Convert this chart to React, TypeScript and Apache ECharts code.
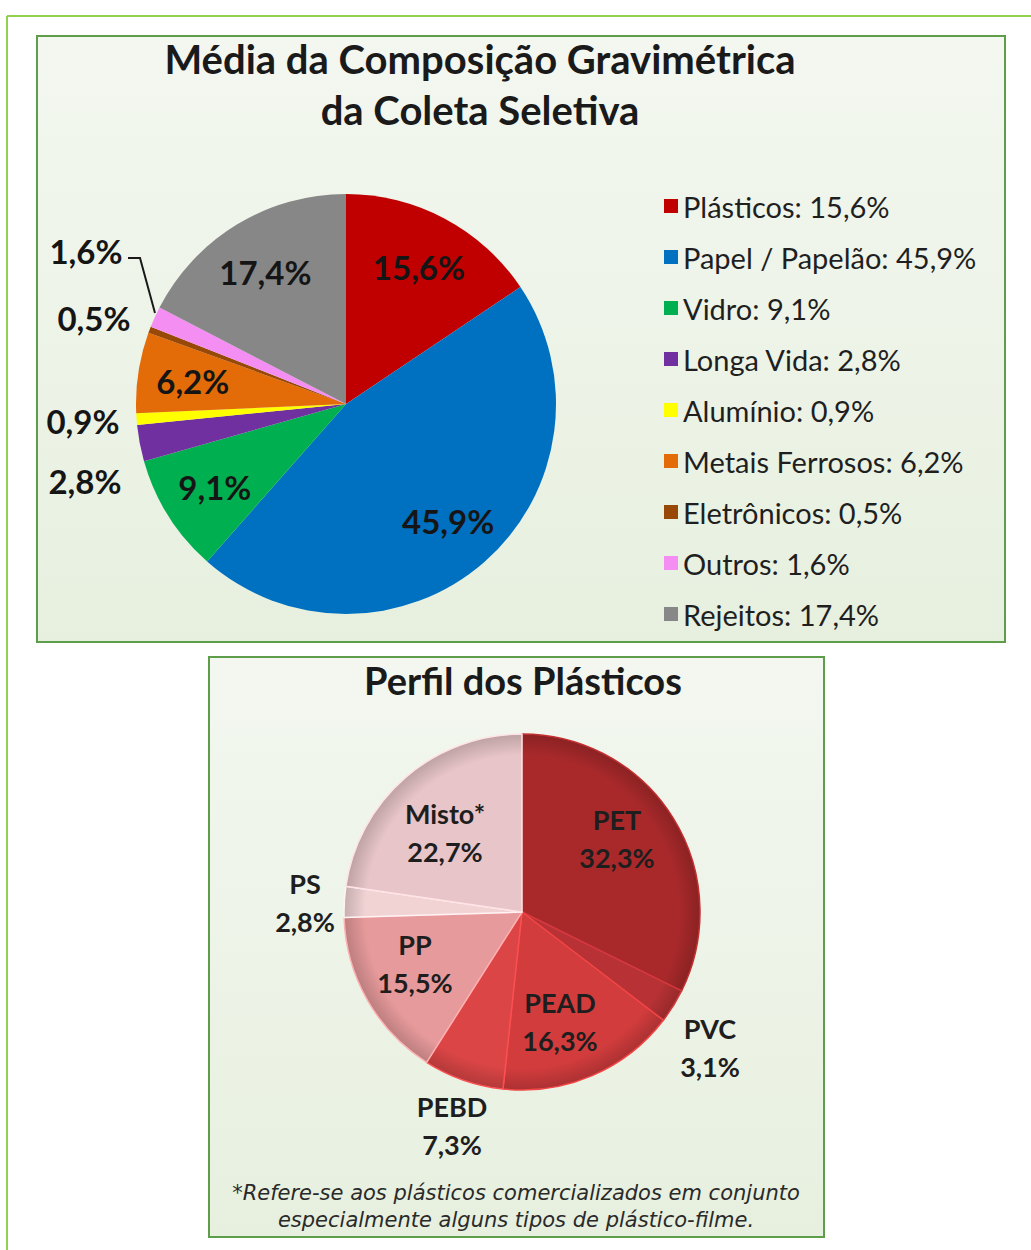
import React, { useEffect, useRef } from "react";
import * as echarts from "echarts";

const TOP_TITLE = "Média da Composição Gravimétrica\nda Coleta Seletiva";
const TOP_CATEGORIES = ["Plásticos", "Papel / Papelão", "Vidro", "Longa Vida", "Alumínio", "Metais Ferrosos", "Eletrônicos", "Outros", "Rejeitos"];
const TOP_VALUES = [15.6, 45.9, 9.1, 2.8, 0.9, 6.2, 0.5, 1.6, 17.4];
const TOP_COLORS = ["#c00000", "#0070c0", "#00b050", "#7030a0", "#ffff00", "#e36c09", "#984807", "#f58ef3", "#878787"];

const PLASTIC_TITLE = "Perfil dos Plásticos";
const PLASTIC_CATEGORIES = ["PET", "PVC", "PEAD", "PEBD", "PP", "PS", "Misto*"];
const PLASTIC_VALUES = [32.3, 3.1, 16.3, 7.3, 15.5, 2.8, 22.7];
const PLASTIC_COLORS = ["#a9292b", "#b83235", "#d23c3d", "#db4546", "#e79a9b", "#f1d3d4", "#e8c5c8"];
const FOOTNOTE = "*Refere-se aos plásticos comercializados em conjunto\nespecialmente alguns tipos de plástico-filme.";

// label placements (text, not marks)
const TOP_OUTSIDE_LABELS: Record<string, [number, number]> = {
  "Longa Vida": [85, 481],
  "Alumínio": [83, 421],
  "Eletrônicos": [94, 318],
  "Outros": [86, 251],
};
const PLASTIC_LABEL_POS: [number, number][] = [
  [617, 838], [710, 1047], [560, 1021], [452, 1125], [415, 963], [305, 902], [445, 832],
];

const fmt = (v: number) => v.toFixed(1).replace(".", ",") + "%";
const FONT = "Lato";

function shade(hex: string, f: number) {
  const n = parseInt(hex.slice(1), 16);
  const r = Math.round(((n >> 16) & 255) * f);
  const g = Math.round(((n >> 8) & 255) * f);
  const b = Math.round((n & 255) * f);
  return `rgb(${Math.min(255, r)},${Math.min(255, g)},${Math.min(255, b)})`;
}

export default function App() {
  const ref = useRef<HTMLDivElement>(null);
  useEffect(() => {
    if (!ref.current) return;
    const chart = echarts.init(ref.current, null, { renderer: "svg" });
    const topC = [346, 404];
    const topR = 210;
    const plC = [522, 912];
    const plR = 178;

    const boxFill = {
      type: "linear", x: 0, y: 0, x2: 0, y2: 1,
      colorStops: [
        { offset: 0, color: "#f3f7f0" },
        { offset: 1, color: "#e7f0df" },
      ],
    };

    chart.setOption({
      animation: false,
      backgroundColor: "#ffffff",
      graphic: [
        { type: "line", z: 0, shape: { x1: 7, y1: 16, x2: 1031, y2: 16 }, style: { stroke: "#92d050", lineWidth: 2 } },
        { type: "line", z: 0, shape: { x1: 7, y1: 16, x2: 7, y2: 1250 }, style: { stroke: "#92d050", lineWidth: 2 } },
        { type: "rect", z: 0, shape: { x: 37, y: 36, width: 968, height: 606 }, style: { fill: boxFill, stroke: "#5e9e4a", lineWidth: 2 } },
        { type: "rect", z: 0, shape: { x: 209, y: 657, width: 615, height: 580 }, style: { fill: boxFill, stroke: "#5e9e4a", lineWidth: 2 } },
      ],
      title: [
        {
          text: TOP_TITLE, left: 475, top: 28, textAlign: "center",
          textStyle: { fontFamily: FONT, fontSize: 40, fontWeight: "bold", color: "#1a1a1a", lineHeight: 51 },
        },
        {
          text: PLASTIC_TITLE, left: 518, top: 653, textAlign: "center",
          textStyle: { fontFamily: FONT, fontSize: 38, fontWeight: "bold", color: "#1a1a1a", lineHeight: 44 },
        },
        {
          text: FOOTNOTE, left: 511, top: 1174, textAlign: "center",
          textStyle: { fontFamily: "DejaVu Sans", fontSize: 21, fontStyle: "italic", fontWeight: "normal", color: "#2a2a2a", lineHeight: 27 },
        },
      ],
      legend: {
        orient: "vertical",
        left: 659,
        top: 186,
        icon: "rect",
        itemWidth: 14,
        itemHeight: 14,
        itemGap: 21,
        data: TOP_CATEGORIES,
        formatter: (name: string) => `${name}: ${fmt(TOP_VALUES[TOP_CATEGORIES.indexOf(name)])}`,
        textStyle: { fontFamily: FONT, fontSize: 29, color: "#1f1f1f", lineHeight: 30, padding: [0, 0, 0, 0] },
        selectedMode: false,
      },
      series: [
        {
          type: "pie",
          name: "composicao",
          center: topC,
          radius: topR,
          startAngle: 90,
          clockwise: true,
          label: { show: false },
          labelLine: { show: false },
          emphasis: { disabled: true },
          itemStyle: { borderWidth: 0 },
          data: TOP_CATEGORIES.map((n, i) => ({ name: n, value: TOP_VALUES[i], itemStyle: { color: TOP_COLORS[i] } })),
        },
        {
          type: "pie",
          name: "rotulos",
          center: topC,
          radius: [94, topR],
          startAngle: 90,
          clockwise: true,
          silent: true,
          avoidLabelOverlap: false,
          itemStyle: { color: "rgba(0,0,0,0)" },
          emphasis: { disabled: true },
          label: {
            show: true, position: "inside",
            formatter: (p: any) => fmt(p.value),
            fontFamily: FONT, fontSize: 33, fontWeight: "bold", color: "#151515",
          },
          labelLine: { show: false },
          labelLayout: (p: any) => {
            const name = TOP_CATEGORIES[p.dataIndex];
            const pos = TOP_OUTSIDE_LABELS[name];
            if (!pos) return {};
            const out: any = { x: pos[0], y: pos[1], align: "center", verticalAlign: "middle" };
            if (name === "Outros") out.labelLinePoints = [[155, 313], [140, 258], [128, 258]];
            return out;
          },
          data: TOP_CATEGORIES.map((n, i) => {
            const outside = !!TOP_OUTSIDE_LABELS[n];
            return {
              name: n,
              value: TOP_VALUES[i],
              label: outside ? { position: "outside" } : {},
              labelLine: { show: n === "Outros", lineStyle: { color: "#1a1a1a", width: 2 }, length: 10, length2: 10 },
            };
          }),
        },
        {
          type: "pie",
          name: "plasticos",
          center: plC,
          radius: plR,
          startAngle: 90,
          clockwise: true,
          avoidLabelOverlap: false,
          emphasis: { disabled: true },
          label: {
            show: true, position: "outside",
            formatter: (p: any) => `${p.name}\n${fmt(p.value)}`,
            fontFamily: FONT, fontSize: 27, fontWeight: "bold", color: "#1e1e1e", lineHeight: 38, align: "center",
          },
          labelLine: { show: false },
          labelLayout: (p: any) => {
            const pos = PLASTIC_LABEL_POS[p.dataIndex];
            return { x: pos[0], y: pos[1], align: "center", verticalAlign: "middle" };
          },
          data: PLASTIC_CATEGORIES.map((n, i) => ({
            name: n,
            value: PLASTIC_VALUES[i],
            itemStyle: {
              color: {
                type: "radial", x: plC[0], y: plC[1], r: plR, global: true,
                colorStops: [
                  { offset: 0, color: PLASTIC_COLORS[i] },
                  { offset: 0.88, color: PLASTIC_COLORS[i] },
                  { offset: 1, color: shade(PLASTIC_COLORS[i], 0.82) },
                ],
              },
              borderColor: shade(PLASTIC_COLORS[i], 1.15),
              borderWidth: 1.5,
            },
          })),
        },
      ],
    });
    return () => chart.dispose();
  }, []);
  return <div ref={ref} style={{ position: "absolute", left: 0, top: 0, width: 1031, height: 1250 }} />;
}
